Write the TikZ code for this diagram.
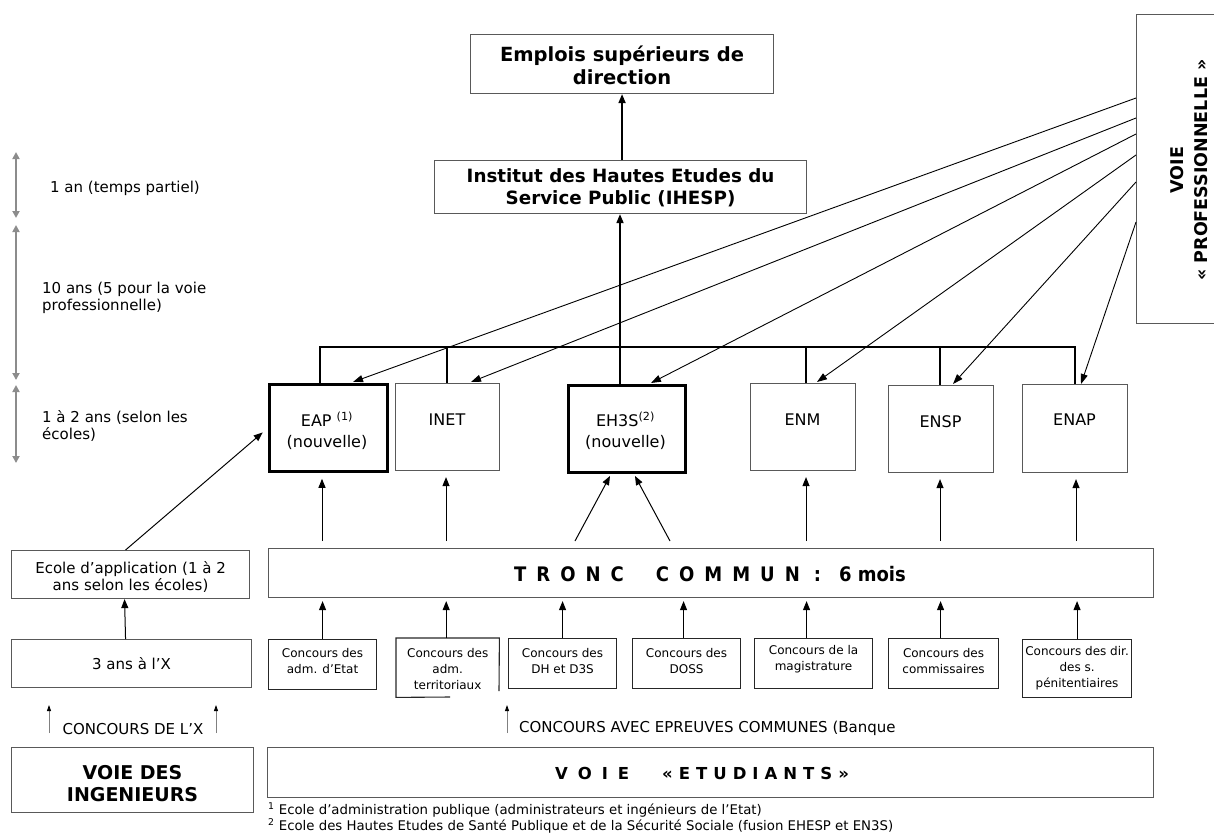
\documentclass[tikz,border=0pt]{standalone}
\usepackage{fontspec}
\setmainfont{DejaVu Sans}
\newfontfamily\cond[FakeStretch=0.9]{DejaVu Sans}
\usetikzlibrary{arrows.meta,calc}
\newcommand\fA{\fontsize{15}{17}\selectfont}
\newcommand\fS{\fontsize{16}{21}\selectfont}
\newcommand\fC{\fontsize{12}{16}\selectfont}
\newcommand\fF{\fontsize{13.3}{16}\selectfont}
\begin{document}
\begin{tikzpicture}[x=1pt,y=-1pt,
  bx/.style={draw=black!65, line width=1.1pt, inner sep=0pt, anchor=north west},
  cbx/.style={draw=black!85, line width=1.1pt, inner sep=0pt, anchor=north west},
  tbx/.style={draw=black, line width=2.8pt, inner sep=0pt, anchor=north west},
  arr/.style={line width=1pt, -{Triangle[length=9pt,width=7pt]}},
  parr/.style={line width=0.9pt, -{Triangle[length=10pt,width=7pt]}},
  bus/.style={line width=2pt},
  garr/.style={draw=black!45, line width=2pt, {Triangle[length=7pt,width=7pt]}-{Triangle[length=7pt,width=7pt]}},
  sarr/.style={draw=black!50, line width=0.8pt, -{Triangle[length=6pt,width=4pt,color=black]}},
  txt/.style={inner sep=0pt, align=center}]
\useasboundingbox (0,0) rectangle (1214,835);
\clip (0,0) rectangle (1214,835);

% time scale
\coordinate (g1a) at (16,152); \coordinate (g1b) at (16,218);
\coordinate (g2a) at (16,225); \coordinate (g2b) at (16,380);
\coordinate (g3a) at (16,385); \coordinate (g3b) at (16,463);
\draw[garr] (g1a) -- (g1b);
\draw[garr] (g2a) -- (g2b);
\draw[garr] (g3a) -- (g3b);
\node[txt, anchor=west, align=left, font=\fA] (l1) at (50,188) {1 an (temps partiel)};
\node[txt, anchor=west, align=left, font=\fA] (l2) at (42,298) {10 ans (5 pour la voie\\professionnelle)};
\node[txt, anchor=west, align=left, font=\fA] (l3) at (42,426) {1 à 2 ans (selon les\\écoles)};

% top boxes
\node[bx, minimum width=303pt, minimum height=59pt] (emp) at (470,34) {};
\node[txt, font=\fontsize{19.5}{23}\selectfont\bfseries] (empt) at ($(emp.center)+(0,1)$) {Emplois supérieurs de\\direction};
\node[bx, minimum width=372pt, minimum height=53pt] (ihesp) at (434,160) {};
\node[txt, font=\fontsize{18.3}{22}\selectfont\bfseries] (ihespt) at ($(ihesp.center)+(0,1)$) {Institut des Hautes Etudes du\\Service Public (IHESP)};
\draw[arr, line width=1.6pt] (ihesp.north -| emp.south) -- (emp.south);

% voie professionnelle
\node[bx, minimum width=95pt, minimum height=309pt] (vp) at (1136,14) {};
\node[txt, font=\fontsize{17.5}{24}\selectfont\bfseries, rotate=90] (vpt) at (1189,170) {VOIE\\« PROFESSIONNELLE »};

% schools
\node[tbx, minimum width=118pt, minimum height=87pt] (eap) at (268,383) {};
\node[bx, minimum width=104pt, minimum height=87pt] (inet) at (395,383) {};
\node[tbx, minimum width=117pt, minimum height=87pt] (eh) at (567,384) {};
\node[bx, minimum width=105pt, minimum height=87pt] (enm) at (750,383) {};
\node[bx, minimum width=105pt, minimum height=87pt] (ensp) at (888,385) {};
\node[bx, minimum width=105pt, minimum height=88pt] (enap) at (1022,384) {};
\node[txt, font=\fS] (eapt) at (327,431) {EAP \textsuperscript{(1)}\\(nouvelle)};
\node[txt, font=\fS] (inett) at (447,420) {INET};
\node[txt, font=\fS] (eht) at (625.5,431) {EH3S\textsuperscript{(2)}\\(nouvelle)};
\node[txt, font=\fS] (enmt) at (802.5,420) {ENM};
\node[txt, font=\fS] (enspt) at (940.5,422) {ENSP};
\node[txt, font=\fS] (enapt) at (1074.5,420) {ENAP};

% bus
\coordinate (b1) at (320,347); \coordinate (b2) at (447,347);
\coordinate (b3) at (620,347); \coordinate (b4) at (806,347);
\coordinate (b5) at (940,347); \coordinate (b6) at (1075,347);
\draw[bus] (b1 |- eap.north) -- (b1) -- (b6) -- (b6 |- enap.north);
\draw[bus] (b2) -- (b2 |- inet.north);
\draw[bus] (b3) -- (b3 |- eh.north);
\draw[line width=1.3pt] (b4) -- (b4 |- enm.north);
\draw[bus] (b5) -- (b5 |- ensp.north);
\draw[arr, line width=1.6pt] (b3) -- (b3 |- ihesp.south);

% voie pro arrows
\coordinate (p1) at (1136,98);  \coordinate (q1) at (353,382);
\coordinate (p2) at (1136,118); \coordinate (q2) at (471,382);
\coordinate (p3) at (1136,134); \coordinate (q3) at (651,383);
\coordinate (p4) at (1136,155); \coordinate (q4) at (817,382);
\coordinate (p5) at (1136,182); \coordinate (q5) at (953,384);
\coordinate (p6) at (1136,222); \coordinate (q6) at (1081,384);
\foreach \i in {1,...,6} \draw[parr] (p\i) -- (q\i);

% tronc commun
\node[bx, minimum width=885pt, minimum height=49pt] (tronc) at (268,548) {};
\node[txt, font={\cond\fontsize{20}{22}\selectfont\bfseries}] (tronct) at (710,574)
  {T\hspace{10pt}R\hspace{10pt}O\hspace{10pt}N\hspace{10pt}C\hspace{32pt}C\hspace{10pt}O\hspace{10pt}M\hspace{10pt}M\hspace{10pt}U\hspace{10pt}N\hspace{14pt}:\hspace{18pt}6 mois};
\coordinate (u1) at (322,548); \coordinate (u2) at (446,548);
\coordinate (u4) at (806,548); \coordinate (u5) at (940,548); \coordinate (u6) at (1076,548);
\draw[arr, shorten <=7pt, shorten >=6pt] (u1) -- (u1 |- eap.south);
\draw[arr, shorten <=7pt, shorten >=6pt] (u2) -- (u2 |- inet.south);
\draw[arr, shorten <=7pt, shorten >=6pt] (u4) -- (u4 |- enm.south);
\draw[arr, shorten <=7pt, shorten >=6pt] (u5) -- (u5 |- ensp.south);
\draw[arr, shorten <=7pt, shorten >=6pt] (u6) -- (u6 |- enap.south);
\coordinate (d1) at (575,541); \coordinate (e1) at (610,476);
\coordinate (d2) at (670,541); \coordinate (e2) at (635,476);
\draw[arr] (d1) -- (e1);
\draw[arr] (d2) -- (e2);

% concours
\node[cbx, minimum width=108pt, minimum height=50pt] (c1) at (268,639) {};
\node[inner sep=0pt, minimum width=103pt, minimum height=59pt, anchor=north west] (c2) at (396,638) {};
\draw[draw=black!85, line width=1.1pt] (450,697) -- (c2.south west) -- (c2.north west) -- (c2.north east) -- (499,691);
\node[cbx, minimum width=108pt, minimum height=50pt] (c3) at (508,638) {};
\node[cbx, minimum width=108pt, minimum height=50pt] (c4) at (632,638) {};
\node[cbx, minimum width=118pt, minimum height=50pt] (c5) at (754,638) {};
\node[cbx, minimum width=110pt, minimum height=50pt] (c6) at (888,638) {};
\node[cbx, minimum width=109pt, minimum height=58pt] (c7) at (1022,639) {};
\node[txt, font=\fC] (c1t) at ($(c1.center)+(0,-4)$) {Concours des\\adm. d’Etat};
\node[txt, font=\fC] (c2t) at ($(c2.center)+(0,1)$) {Concours des\\adm.\\territoriaux};
\node[txt, font=\fC] (c3t) at ($(c3.center)+(0,-3)$) {Concours des\\DH et D3S};
\node[txt, font=\fC] (c4t) at ($(c4.center)+(0,-3)$) {Concours des\\DOSS};
\node[txt, font=\fC] (c5t) at ($(c5.center)+(0,-4)$) {Concours de la\\magistrature};
\node[txt, font=\fC] (c6t) at ($(c6.center)+(0,-3)$) {Concours des\\commissaires};
\node[txt, font=\fC] (c7t) at ($(c7.center)+(0,0)$) {Concours des dir.\\des s.\\pénitentiaires};
\draw[arr, shorten >=3pt] (c1.north) -- (c1.north |- tronc.south);
\draw[arr, shorten >=3pt] ([xshift=-1.5pt]c2.north) -- ([xshift=-1.5pt]c2.north |- tronc.south);
\draw[arr, shorten >=3pt] (c3.north) -- (c3.north |- tronc.south);
\draw[arr, shorten >=3pt] ([xshift=-3pt]c4.north) -- ([xshift=-3pt]c4.north |- tronc.south);
\draw[arr, shorten >=3pt] ([xshift=-7pt]c5.north) -- ([xshift=-7pt]c5.north |- tronc.south);
\draw[arr, shorten >=3pt] ([xshift=-3pt]c6.north) -- ([xshift=-3pt]c6.north |- tronc.south);
\draw[arr, shorten >=3pt] (c7.north) -- (c7.north |- tronc.south);

\coordinate (s3a) at (507,733); \coordinate (s3b) at (507,705);
\draw[sarr] (s3a) -- (s3b);
\node[txt, anchor=west, font=\fA] (banq) at (519,728) {CONCOURS AVEC EPREUVES COMMUNES (Banque};

% left column
\node[bx, minimum width=238pt, minimum height=48pt] (ecole) at (11,550) {};
\node[txt, font=\fA] (ecolet) at ($(ecole.center)+(0,2)$) {Ecole d’application (1 à 2\\ans selon les écoles)};
\node[bx, minimum width=240pt, minimum height=48pt] (xbox) at (11,639) {};
\node[txt, font=\fA] (xboxt) at (xbox.center) {3 ans à l’X};
\draw[arr] ([xshift=-6pt]xbox.north) -- ([xshift=-6pt]ecole.south);
\draw[arr, shorten >=7pt] ([xshift=-5pt]ecole.north) -- (eap.west);
\coordinate (s1a) at (49,733); \coordinate (s1b) at (49,705);
\coordinate (s2a) at (216,733); \coordinate (s2b) at (216,705);
\draw[sarr] (s1a) -- (s1b);
\draw[sarr] (s2a) -- (s2b);
\node[txt, font=\fA] (concx) at (133,729) {CONCOURS DE L’X};
\node[bx, minimum width=242pt, minimum height=65pt] (ving) at (11,747) {};
\node[txt, font=\fontsize{19}{22}\selectfont\bfseries] (vingt) at ($(ving.center)+(0,4)$) {VOIE DES\\INGENIEURS};

% voie etudiants
\node[bx, minimum width=886pt, minimum height=50pt] (etud) at (267,747) {};
\node[txt, font=\fontsize{16.5}{18}\selectfont\bfseries] (etudt) at (702,773)
  {V\hspace{10pt}O\hspace{10pt}I\hspace{10pt}E\hspace{33pt}«\hspace{6pt}E\hspace{6pt}T\hspace{6pt}U\hspace{6pt}D\hspace{6pt}I\hspace{6pt}A\hspace{6pt}N\hspace{6pt}T\hspace{6pt}S\hspace{6pt}»};

% footnotes
\node[txt, anchor=west, font=\fF] (fn1) at (268,810) {\textsuperscript{1} Ecole d’administration publique (administrateurs et ingénieurs de l’Etat)};
\node[txt, anchor=west, font=\fF] (fn2) at (268,826) {\textsuperscript{2} Ecole des Hautes Etudes de Santé Publique et de la Sécurité Sociale (fusion EHESP et EN3S)};
\end{tikzpicture}
\end{document}
